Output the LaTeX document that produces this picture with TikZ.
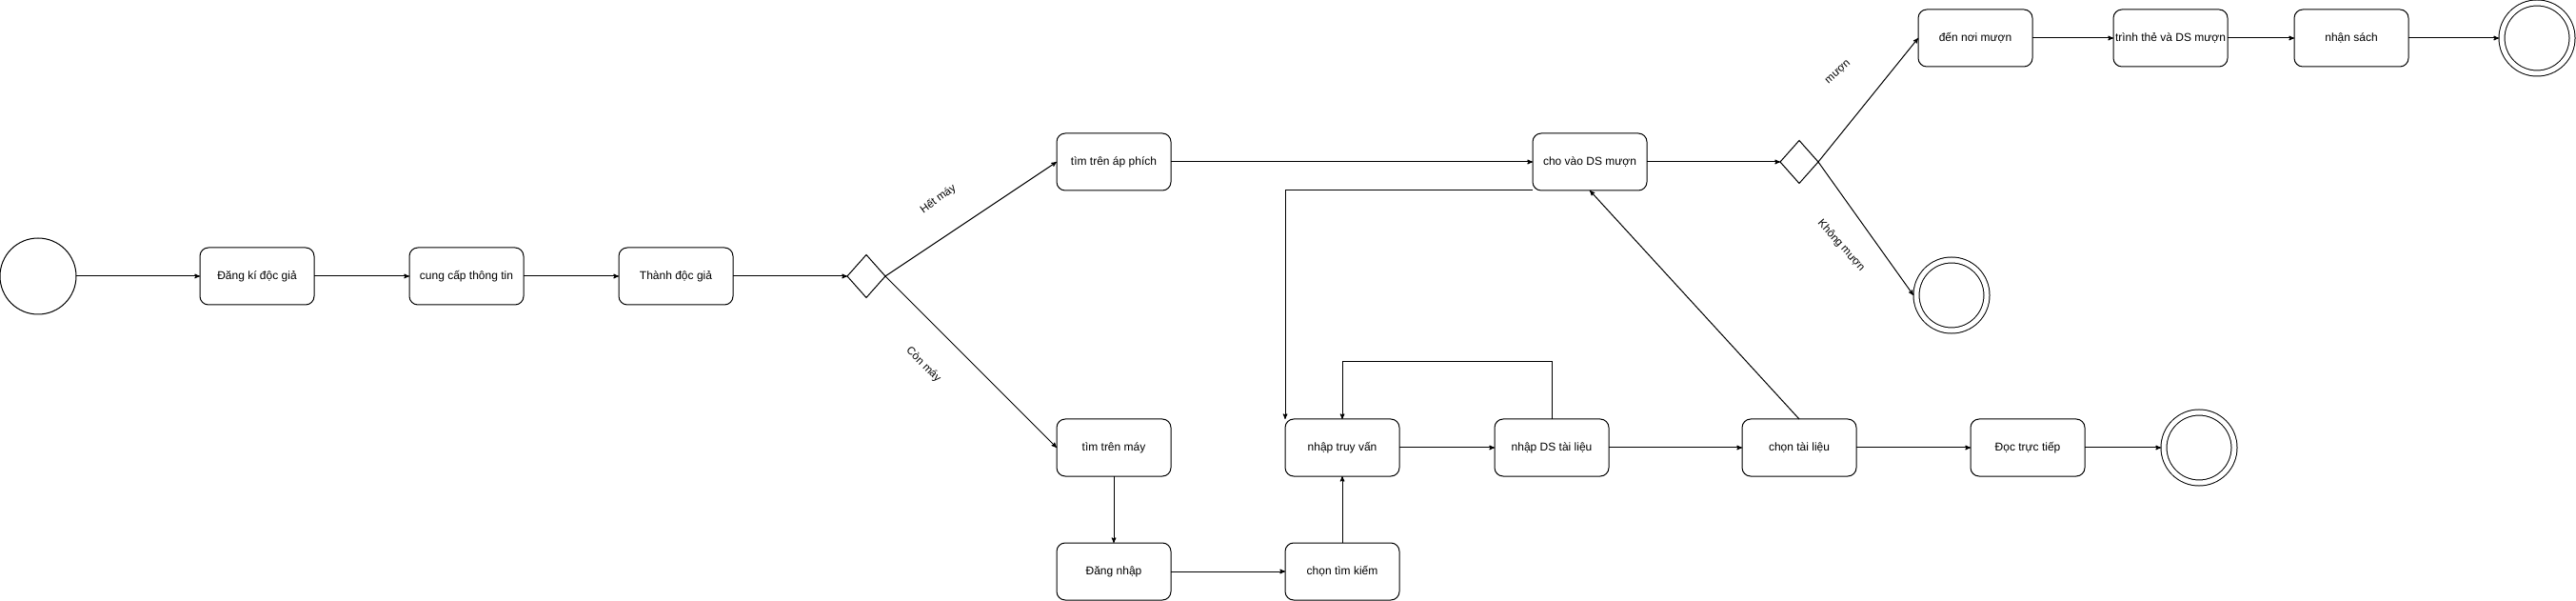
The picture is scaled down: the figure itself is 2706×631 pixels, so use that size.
\documentclass[tikz,border=0pt]{standalone}
\usepackage{fontspec}
\setmainfont{Liberation Sans}
\usetikzlibrary{arrows,positioning,shapes.geometric}

\begin{document}
\begin{tikzpicture}[auto,node distance=100pt,>=stealth',line width=1pt,font=\fontsize{12pt}{14pt}\selectfont]
\tikzset{
block/.style = {draw, rectangle, rounded corners=9pt, minimum height=60pt, minimum width=120pt, inner sep=0pt, outer sep=0pt},
decision/.style = {draw, diamond, minimum width=40pt, minimum height=45pt, inner sep=0pt, outer sep=0pt},
startstate/.style = {draw, circle, minimum size=80pt, inner sep=0pt, outer sep=0pt},
endstate/.style = {draw, circle, double, double distance=5pt, minimum size=74pt, inner sep=0pt, outer sep=3pt},
guard/.style = {inner sep=0pt, font=\fontsize{11.5pt}{13pt}\selectfont}
}
\useasboundingbox (-40pt,-341pt) rectangle (2666pt,290pt);

\node [startstate](start) {};
\node [block, right = 130pt of start](register) {Đăng kí độc giả};
\node [block, right = 100pt of register](provideinfo) {cung cấp thông tin};
\node [block, right = 100pt of provideinfo](becomereader) {Thành độc giả};
\node [decision, right = 120pt of becomereader](choice) {};

\node [block, right = 180pt of choice, yshift = 120pt](postersearch) {tìm trên áp phích};
\node [block, right = 180pt of choice, yshift = -180pt](machinesearch) {tìm trên máy};
\node [block, below = 70pt of machinesearch](login) {Đăng nhập};
\node [block, right = 120pt of login](choosesearch) {chọn tìm kiếm};
\node [block, above = 70pt of choosesearch](enterquery) {nhập truy vấn};
\node [block, right = 100pt of enterquery](enterlist) {nhập DS tài liệu};
\node [block, right = 140pt of enterlist](choosedoc) {chọn tài liệu};
\node [block, right = 120pt of choosedoc](readdirect) {Đọc trực tiếp};
\node [endstate, right = 80pt of readdirect](endread) {};

\node [block, right = 380pt of postersearch](addborrow) {cho vào DS mượn};
\node [decision, right = 140pt of addborrow](borrowchoice) {};
\node [block, right = 105pt of borrowchoice, yshift = 130pt](gotodesk) {đến nơi mượn};
\node [block, right = 85pt of gotodesk](showcard) {trình thẻ và DS mượn};
\node [block, right = 70pt of showcard](receivebook) {nhận sách};
\node [endstate, right = 95pt of receivebook](endborrow) {};
\node [endstate, right = 100pt of borrowchoice, yshift = -140pt](endnoborrow) {};

% nhan tren cac nhanh
\node [guard, rotate = 36] (nomachine) at (945.5pt,81pt) {Hết máy};
\node [guard, rotate = -45] (hasmachine) at (930pt,-93pt) {Còn máy};
\node [guard, rotate = 42] (borrowyes) at (1891pt,214pt) {mượn};
\node [guard, rotate = -48] (borrowno) at (1894pt,32pt) {Không mượn};

\draw [->] (start) -- (register);
\draw [->] (register) -- (provideinfo);
\draw [->] (provideinfo) -- (becomereader);
\draw [->] (becomereader) -- (choice);
\draw [->] (choice.east) -- (postersearch.west);
\draw [->] (choice.east) -- (machinesearch.west);

\draw [->] (postersearch) -- (addborrow);
\draw [->] (machinesearch) -- (login);
\draw [->] (login) -- (choosesearch);
\draw [->] (choosesearch) -- (enterquery);
\draw [->] (enterquery) -- (enterlist);
\draw [->] (enterlist.north) -- ++(0,60pt) -| (enterquery.north);
\draw [->] (enterlist) -- (choosedoc);
\draw [->] (choosedoc) -- (readdirect);
\draw [->] (readdirect) -- (endread);
\draw [->] (choosedoc.north) -- (addborrow.south);
\draw [->] (addborrow.south west) -| (enterquery.north west);

\draw [->] (addborrow) -- (borrowchoice);
\draw [->] (borrowchoice.east) -- (gotodesk.west);
\draw [->] (borrowchoice.east) -- (endnoborrow.west);
\draw [->] (gotodesk) -- (showcard);
\draw [->] (showcard) -- (receivebook);
\draw [->] (receivebook) -- (endborrow);
\end{tikzpicture}
\end{document}
